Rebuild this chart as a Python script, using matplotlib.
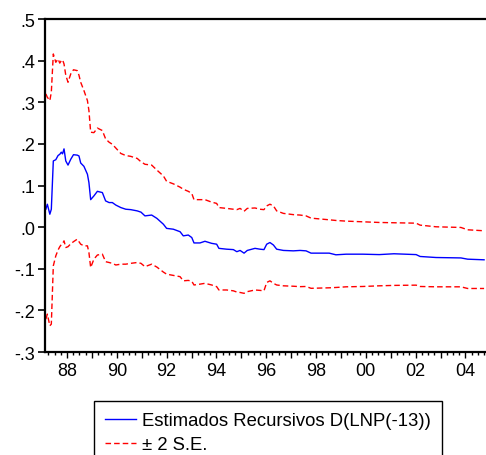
import matplotlib
matplotlib.use("Agg")
import matplotlib.pyplot as plt
from matplotlib.ticker import FixedLocator, FuncFormatter

plt.rcParams['font.family'] = ['Liberation Sans', 'DejaVu Sans']

# decimal years
dates = [1987.15, 1987.21, 1987.31, 1987.37, 1987.45, 1987.55, 1987.64, 1987.71,
         1987.77, 1987.82, 1987.88, 1987.95, 1988.04, 1988.15, 1988.26, 1988.41,
         1988.48, 1988.55, 1988.68, 1988.82, 1988.88, 1988.95, 1989.08, 1989.22,
         1989.42, 1989.55, 1989.69, 1989.82, 1989.96, 1990.16, 1990.36, 1990.56,
         1990.82, 1990.97, 1991.13, 1991.40, 1991.61, 1991.87, 1992.00, 1992.27,
         1992.54, 1992.67, 1992.87, 1993.01, 1993.10, 1993.34, 1993.54, 1993.81,
         1994.01, 1994.10, 1994.41, 1994.68, 1994.82, 1994.95, 1995.11, 1995.24,
         1995.55, 1995.75, 1995.91, 1996.02, 1996.15, 1996.29, 1996.42, 1996.69,
         1997.09, 1997.36, 1997.60, 1997.80, 1998.53, 1998.80, 1999.21, 1999.88,
         2000.54, 2001.13, 2002.02, 2002.18, 2002.82, 2003.82, 2004.09, 2004.75]

estimado = [0.043, 0.055, 0.031, 0.043, 0.159, 0.162, 0.172, 0.175,
            0.180, 0.176, 0.188, 0.159, 0.149, 0.163, 0.174, 0.173,
            0.171, 0.154, 0.146, 0.127, 0.107, 0.066, 0.075, 0.086,
            0.083, 0.063, 0.059, 0.059, 0.053, 0.047, 0.043, 0.042,
            0.039, 0.036, 0.027, 0.029, 0.021, 0.007, -0.003, -0.005,
            -0.011, -0.021, -0.019, -0.025, -0.038, -0.038, -0.034, -0.039,
            -0.041, -0.051, -0.053, -0.054, -0.059, -0.056, -0.0625, -0.056,
            -0.051, -0.053, -0.054, -0.041, -0.037, -0.043, -0.053, -0.056,
            -0.057, -0.056, -0.057, -0.0625, -0.0625, -0.0665, -0.065, -0.065,
            -0.066, -0.064, -0.066, -0.0705, -0.073, -0.074, -0.077, -0.0785]

superior = [0.320, 0.312, 0.304, 0.324, 0.416, 0.396, 0.404, 0.394,
            0.400, 0.402, 0.392, 0.365, 0.348, 0.368, 0.378, 0.376,
            0.365, 0.348, 0.328, 0.304, 0.280, 0.228, 0.227, 0.238,
            0.232, 0.212, 0.204, 0.199, 0.190, 0.177, 0.172, 0.170,
            0.165, 0.157, 0.151, 0.149, 0.137, 0.123, 0.110, 0.104,
            0.096, 0.091, 0.086, 0.081, 0.066, 0.066, 0.066, 0.060,
            0.057, 0.047, 0.045, 0.043, 0.042, 0.045, 0.038, 0.045,
            0.046, 0.043, 0.042, 0.051, 0.055, 0.051, 0.039, 0.033,
            0.030, 0.029, 0.027, 0.0216, 0.0176, 0.016, 0.0144, 0.0128,
            0.0112, 0.0105, 0.0095, 0.0048, 0.0008, -0.0008, -0.0064, -0.0088]

inferior = [-0.221, -0.209, -0.237, -0.233, -0.093, -0.069, -0.055, -0.047,
            -0.042, -0.040, -0.033, -0.049, -0.047, -0.040, -0.035, -0.029,
            -0.035, -0.041, -0.045, -0.045, -0.061, -0.097, -0.077, -0.067,
            -0.065, -0.083, -0.085, -0.087, -0.091, -0.089, -0.089, -0.087,
            -0.085, -0.087, -0.095, -0.089, -0.096, -0.108, -0.113, -0.116,
            -0.119, -0.129, -0.128, -0.130, -0.139, -0.137, -0.135, -0.139,
            -0.143, -0.151, -0.151, -0.153, -0.156, -0.157, -0.159, -0.155,
            -0.151, -0.152, -0.153, -0.133, -0.129, -0.135, -0.139, -0.141,
            -0.142, -0.143, -0.1426, -0.147, -0.1458, -0.145, -0.1434, -0.1426,
            -0.141, -0.140, -0.1394, -0.1426, -0.1434, -0.1434, -0.1474, -0.1474]

y_ticks = [-0.3, -0.2, -0.1, 0.0, 0.1, 0.2, 0.3, 0.4, 0.5]
years = list(range(1988, 2005))

fig = plt.figure(figsize=(4.86, 4.56), dpi=100)
ax = fig.add_axes([45 / 486, 103 / 456, 441 / 486, 333 / 456])

ax.plot(dates, estimado, color='#0000ff', lw=1.0,
        label='Estimados Recursivos D(LNP(-13))')
ax.plot(dates, superior, color='#ff0000', lw=1.0, dashes=(4, 2.2), label='± 2 S.E.')
ax.plot(dates, inferior, color='#ff0000', lw=1.0, dashes=(4, 2.2))

ax.set_xlim(1987.116, 2004.827)
ax.set_ylim(-0.3, 0.5)

# axis frame: no right side visible
ax.spines['right'].set_visible(False)
for s in ['left', 'top', 'bottom']:
    ax.spines[s].set_linewidth(1.6)

ax.yaxis.set_major_locator(FixedLocator(y_ticks))
ax.yaxis.set_major_formatter(FuncFormatter(
    lambda v, p: ('%.1f' % v).replace('0.', '.').replace('-.0', '.0') if abs(v) > 1e-9 else '.0'))
ax.xaxis.set_major_locator(FixedLocator(years))
ax.xaxis.set_minor_locator(FixedLocator(
    [y + q / 4 for y in range(1987, 2005) for q in range(1, 4)]))
ax.xaxis.set_major_formatter(FuncFormatter(
    lambda v, p: '%02d' % (int(round(v)) % 100) if int(round(v)) % 2 == 0 else ''))

ax.tick_params(axis='y', direction='out', length=5, width=1.2, labelsize=13, pad=2)
ax.tick_params(axis='x', which='major', direction='out', length=4, width=1.0,
               labelsize=13, pad=3)
ax.tick_params(axis='x', which='minor', direction='out', length=2.5, width=1.0)

leg = fig.legend(loc='upper left', bbox_to_anchor=(94 / 486, 1 - 402 / 456),
                 fontsize=13.3, frameon=True, fancybox=False, framealpha=1,
                 edgecolor='black', borderpad=0.6, labelspacing=0.38,
                 handlelength=1.7, handletextpad=0.3, borderaxespad=0)
leg.get_frame().set_linewidth(1.0)

fig.savefig('out.png', dpi=100)
